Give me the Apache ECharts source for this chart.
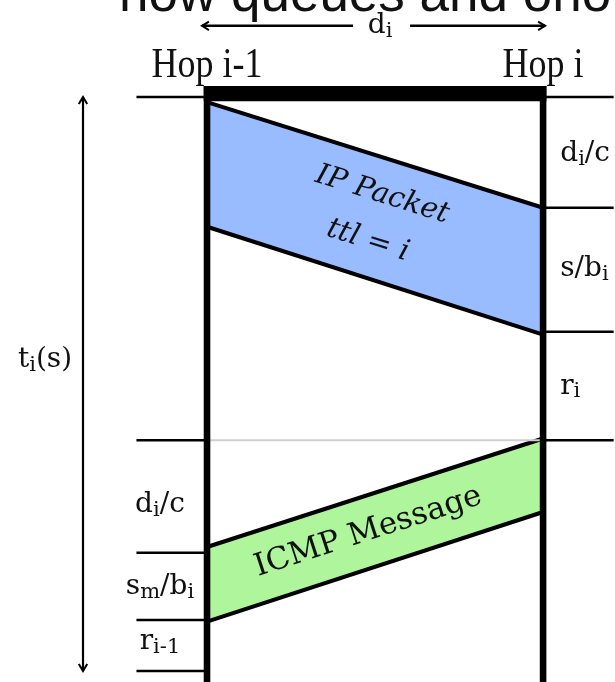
<!DOCTYPE html>
<html>
<head>
<meta charset="utf-8">
<script src="https://cdn.jsdelivr.net/npm/echarts@6/dist/echarts.min.js"></script>
<style>
html,body{margin:0;padding:0;background:#fff;}
#chart{width:615px;height:682px;}
</style>
</head>
<body>
<div id="chart"></div>
<script>
// ---------- data ----------
const titleText = 'how queues and ono';
const hopNames = ['Hop i-1', 'Hop i'];
const hopX = [0, 1];                                 // link distance, d_i = 1
const rightMarks = [0, 19.3, 40.9, 59.8];             // time marks at hop i (% of t_i(s))
const leftMarks = [0, 59.8, 79.4, 91.1, 100];         // time marks at hop i-1
const rightLabels = ['d_i/c', 's/b_i', 'r_i'];
const rightLabelTimes = [9.9, 30.0, 50.4];
const leftLabels = ['d_i/c', 's_m/b_i', 'r_{i-1}'];
const leftLabelTimes = [71.1, 85.4, 94.9];
const bandNames = ['IP Packet\nttl = i', 'ICMP Message'];
const bandTopTimes = [[0.9, 19.3], [78.4, 59.5]];     // [at hop i-1, at hop i]
const bandBottomTimes = [[22.6, 41.4], [91.4, 72.3]];
const spanLabel = 'd_i';
const totalLabel = 't_i(s)';
const totalSpan = [0, 100];

// ---------- styles ----------
const SERIF = "'DejaVu Serif', serif";
const HOPFONT = "'Liberation Serif', serif";
const bandColors = ['#99bbff', '#aef59b'];
const bandItalic = [true, false];
const bandFontSize = [29, 31];
const bandTextPos = [0.5, 0.48];

function richText(s) {
  let out = '', buf = '';
  for (let i = 0; i < s.length; i++) {
    if (s[i] === '_') {
      if (buf) { out += '{m|' + buf + '}'; buf = ''; }
      let sub;
      if (s[i + 1] === '{') { const j = s.indexOf('}', i + 2); sub = s.slice(i + 2, j); i = j; }
      else { sub = s[i + 1]; i++; }
      out += '{s|' + sub + '}';
    } else buf += s[i];
  }
  if (buf) out += '{m|' + buf + '}';
  return out;
}
const RICH = {
  m: {fontFamily: SERIF, fontSize: 28, lineHeight: 32, fill: '#111'},
  s: {fontFamily: SERIF, fontSize: 21, lineHeight: 6, verticalAlign: 'bottom', fill: '#111'}
};
function label(pt, str, align) {
  return {type: 'text', x: pt[0], y: pt[1],
    style: {text: richText(str), rich: RICH, align: align || 'center', verticalAlign: 'middle'}};
}
function chevron(tip, dir, size) {
  const px = -dir[1], py = dir[0];
  return {type: 'polyline', shape: {points: [
    [tip[0] - dir[0] * size + px * size * 0.6, tip[1] - dir[1] * size + py * size * 0.6],
    tip,
    [tip[0] - dir[0] * size - px * size * 0.6, tip[1] - dir[1] * size - py * size * 0.6]]},
    style: {stroke: '#000', lineWidth: 2, fill: null}};
}
function seg(a, b, color, w) {
  return {type: 'line', shape: {x1: a[0], y1: a[1], x2: b[0], y2: b[1]}, style: {stroke: color, lineWidth: w}};
}

const chart = echarts.init(document.getElementById('chart'));

const option = {
  animation: false,
  grid: {left: 0, right: 0, top: 0, bottom: 0},
  xAxis: {type: 'value', min: -0.616, max: 1.214, show: false},
  yAxis: {type: 'value', min: -16.9, max: 101.92, inverse: true, show: false},
  graphic: [{
    type: 'text', x: 119, y: 23, silent: true, z: 0,
    style: {text: titleText, font: "53px 'Liberation Sans', Arial, sans-serif", fill: '#111', verticalAlign: 'bottom'}
  }],
  series: [
    // packets travelling between hops
    {
      type: 'custom', silent: true, z: 2,
      data: bandNames.map((n, i) => [i]),
      renderItem(params, api) {
        const i = params.dataIndex;
        const a = api.coord([hopX[0], bandTopTimes[i][0]]);
        const b = api.coord([hopX[1], bandTopTimes[i][1]]);
        const c = api.coord([hopX[1], bandBottomTimes[i][1]]);
        const d = api.coord([hopX[0], bandBottomTimes[i][0]]);
        const ang = Math.atan2(b[1] - a[1], b[0] - a[0]);
        const f = bandTextPos[i];
        const tx = a[0] + (b[0] - a[0]) * f;
        const ty = ((a[1] + (b[1] - a[1]) * f) + (d[1] + (c[1] - d[1]) * f)) / 2;
        return {type: 'group', children: [
          {type: 'polygon', shape: {points: [a, b, c, d]}, style: {fill: bandColors[i]}},
          seg(a, b, '#000', 4),
          seg(d, c, '#000', 4),
          {type: 'text', x: tx, y: ty, rotation: -ang,
            style: {text: bandNames[i], fontFamily: SERIF, fontSize: bandFontSize[i], lineHeight: 48,
              fontStyle: bandItalic[i] ? 'italic' : 'normal', fill: '#111',
              align: 'center', verticalAlign: 'middle'}}
        ]};
      }
    },
    // time marks
    {
      type: 'custom', silent: true, z: 3,
      data: [[0]],
      renderItem(params, api) {
        const ch = [];
        rightMarks.forEach(t => ch.push(seg(api.coord([hopX[1], t]), api.coord([1.21, t]), '#000', 2.5)));
        leftMarks.forEach(t => ch.push(seg(api.coord([-0.21, t]), api.coord([hopX[0], t]), '#000', 2.5)));
        rightMarks.filter(t => t > 0 && leftMarks.includes(t)).forEach(t =>
          ch.push(seg(api.coord([hopX[0], t]), api.coord([hopX[1], t]), '#cfcfcf', 2)));
        return {type: 'group', children: ch};
      }
    },
    // hop lines and top bar
    {
      type: 'custom', silent: true, z: 4,
      data: hopX.map(x => [x]),
      renderItem(params, api) {
        const x = api.value(0);
        const top = api.coord([x, -1.92]);
        const bot = api.coord([x, 105]);
        const ch = [{type: 'rect', shape: {x: top[0] - 3.3, y: top[1], width: 6.6, height: bot[1] - top[1]}, style: {fill: '#000'}}];
        if (params.dataIndex === 0) {
          const r = api.coord([hopX[1], 0.75]);
          ch.push({type: 'rect', shape: {x: top[0] - 3.3, y: top[1], width: r[0] - top[0] + 6.6, height: r[1] - top[1]}, style: {fill: '#000'}});
        }
        return {type: 'group', children: ch};
      }
    },
    // labels and arrows
    {
      type: 'custom', silent: true, z: 5,
      data: [[0]],
      renderItem(params, api) {
        const ch = [];
        hopNames.forEach((n, i) => {
          const p = api.coord([hopX[i], -5.3]);
          ch.push({type: 'text', x: p[0], y: p[1], scaleY: 1.15,
            style: {text: n, fontFamily: HOPFONT, fontSize: 36, fill: '#111', align: 'center', verticalAlign: 'middle'}});
        });
        rightLabels.forEach((s, i) => ch.push(label(api.coord([1.051, rightLabelTimes[i]]), s, 'left')));
        leftLabels.forEach((s, i) => ch.push(label(api.coord([-0.14, leftLabelTimes[i]]), s, 'center')));
        // span arrow d_i
        const mx = (hopX[0] + hopX[1]) / 2 + 0.015;
        const lp = api.coord([mx, -12.4]);
        ch.push(label(lp, spanLabel, 'center'));
        const l0 = api.coord([hopX[0] - 0.015, -12.4]);
        const r0 = api.coord([hopX[1] + 0.006, -12.4]);
        ch.push(seg(l0, [lp[0] - 27, lp[1]], '#000', 2.5));
        ch.push(seg([lp[0] + 30, lp[1]], r0, '#000', 2.5));
        ch.push(chevron(l0, [-1, 0], 7));
        ch.push(chevron(r0, [1, 0], 7));
        // total time arrow
        const v0 = api.coord([-0.369, totalSpan[0]]);
        const v1 = api.coord([-0.369, totalSpan[1]]);
        ch.push(seg(v0, v1, '#000', 2.2));
        ch.push(chevron(v0, [0, -1], 7));
        ch.push(chevron(v1, [0, 1], 7));
        ch.push(label(api.coord([-0.482, 45.8]), totalLabel, 'center'));
        return {type: 'group', children: ch};
      }
    }
  ]
};
chart.setOption(option);
</script>
</body>
</html>
